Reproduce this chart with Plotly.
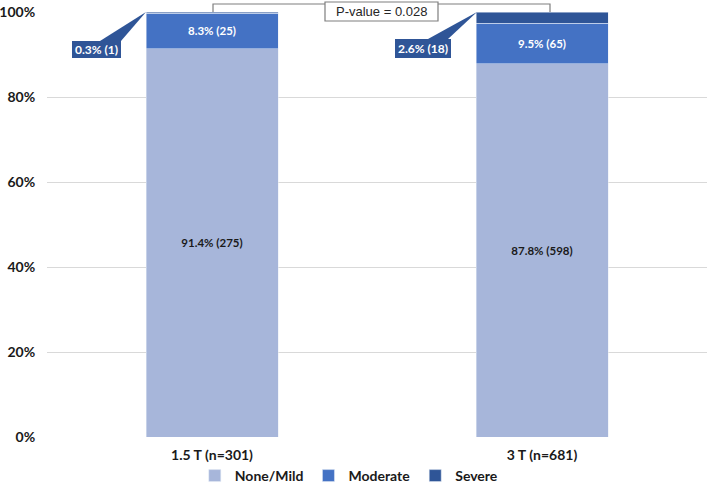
import plotly.graph_objects as go

categories = ["1.5 T (n=301)", "3 T (n=681)"]
none_mild_pct = [91.4, 87.8]
moderate_pct = [8.3, 9.5]
severe_pct = [0.3, 2.6]
none_mild_n = [275, 598]
moderate_n = [25, 65]
severe_n = [1, 18]
y_ticks = [0, 20, 40, 60, 80, 100]
y_tick_labels = ["0%", "20%", "40%", "60%", "80%", "100%"]
p_value_text = "P-value = 0.028"

C_NONE = "#A7B6DA"
C_MOD = "#4472C4"
C_SEV = "#2F5597"
FONT = "Lato"
TXT = "#1a1a1a"

def lab(p, n):
    return [f"{a}% ({b})" for a, b in zip(p, n)]

fig = go.Figure()
fig.add_bar(x=categories, y=none_mild_pct, name="None/Mild", marker_color=C_NONE,
            text=lab(none_mild_pct, none_mild_n), textposition="inside",
            insidetextanchor="middle", textangle=0,
            insidetextfont=dict(color=TXT, size=11.5, family=FONT, weight="bold"))
fig.add_bar(x=categories, y=moderate_pct, name="Moderate", marker_color=C_MOD,
            text=lab(moderate_pct, moderate_n), textposition="inside",
            insidetextanchor="middle", textangle=0,
            insidetextfont=dict(color="white", size=11.5, family=FONT, weight="bold"))
fig.add_bar(x=categories, y=severe_pct, name="Severe", marker_color=C_SEV,
            textposition="none")

# plot area geometry in pixels
L, R, T, B = 47, 707, 12, 437
W, H = R - L, B - T
def px(x):
    return (x - L) / W
def py(y):
    return (B - y) / H

# callouts for severe
sev_labels = lab(severe_pct, severe_n)
callouts = [
    dict(box=(72, 121, 41, 58), wedge=[(100, 41), (121, 41), (146, 12)]),
    dict(box=(395, 451, 39, 58), wedge=[(428, 39), (448, 39), (477, 12)]),
]
for c, t in zip(callouts, sev_labels):
    x0, x1, y0, y1 = c["box"]
    pts = c["wedge"]
    path = "M " + " L ".join(f"{px(a):.5f},{py(b):.5f}" for a, b in pts) + " Z"
    fig.add_shape(type="path", path=path, xref="paper", yref="paper",
                  fillcolor=C_SEV, line=dict(width=0), layer="above")
    fig.add_shape(type="rect", xref="paper", yref="paper",
                  x0=px(x0), x1=px(x1), y0=py(y1), y1=py(y0),
                  fillcolor=C_SEV, line=dict(width=0), layer="above")
    fig.add_annotation(x=px((x0 + x1) / 2), y=py((y0 + y1) / 2), xref="paper", yref="paper",
                       xanchor="center", yanchor="middle",
                       text=t, showarrow=False,
                       font=dict(color="white", size=12, family=FONT, weight="bold"))

# p-value bracket
bl, br, btop, bbot = 213, 550, 4, 12
fig.add_shape(type="path", xref="paper", yref="paper",
              path=f"M {px(bl):.5f},{py(bbot):.5f} L {px(bl):.5f},{py(btop):.5f} L {px(br):.5f},{py(btop):.5f} L {px(br):.5f},{py(bbot):.5f}",
              line=dict(color="#7f7f7f", width=1.2))
fig.add_shape(type="rect", xref="paper", yref="paper",
              x0=px(325), x1=px(438), y0=py(21), y1=py(2),
              fillcolor="white", line=dict(color="#7f7f7f", width=1.2), layer="above")
fig.add_annotation(x=px(381.5), y=py(11.5), xref="paper", yref="paper",
                   xanchor="center", yanchor="middle",
                   text=p_value_text, showarrow=False,
                   font=dict(color="#262626", size=13, family="Liberation Sans"))

fig.update_layout(
    barmode="stack", bargap=0.6,
    width=709, height=483,
    margin=dict(l=L, r=709 - R, t=T, b=483 - B, autoexpand=False),
    plot_bgcolor="white", paper_bgcolor="white",
    font=dict(family=FONT, color=TXT),
    showlegend=True,
    legend=dict(orientation="h", x=0.458, xanchor="center", y=py(476), yanchor="middle",
                bgcolor="rgba(0,0,0,0)",
                font=dict(size=14, family=FONT, weight="bold", color=TXT),
                traceorder="normal", itemwidth=30),
    uniformtext=dict(minsize=8, mode="show"),
)
fig.update_yaxes(range=[0, 100], tickvals=y_ticks, ticktext=y_tick_labels,
                 showgrid=True, gridcolor="#D9D9D9", gridwidth=1, zeroline=False,
                 showline=False, ticks="outside", ticklen=8, tickcolor="white",
                 automargin=False,
                 tickfont=dict(size=14, family=FONT, weight="bold", color=TXT))
fig.update_xaxes(showline=False, showgrid=False, ticks="outside", ticklen=5, tickcolor="white",
                 automargin=False,
                 tickfont=dict(size=14, family=FONT, weight="bold", color=TXT))

fig.write_html("out.html", config={"displayModeBar": False},
               post_script="document.body.style.margin='0';document.body.style.overflow='hidden';")
